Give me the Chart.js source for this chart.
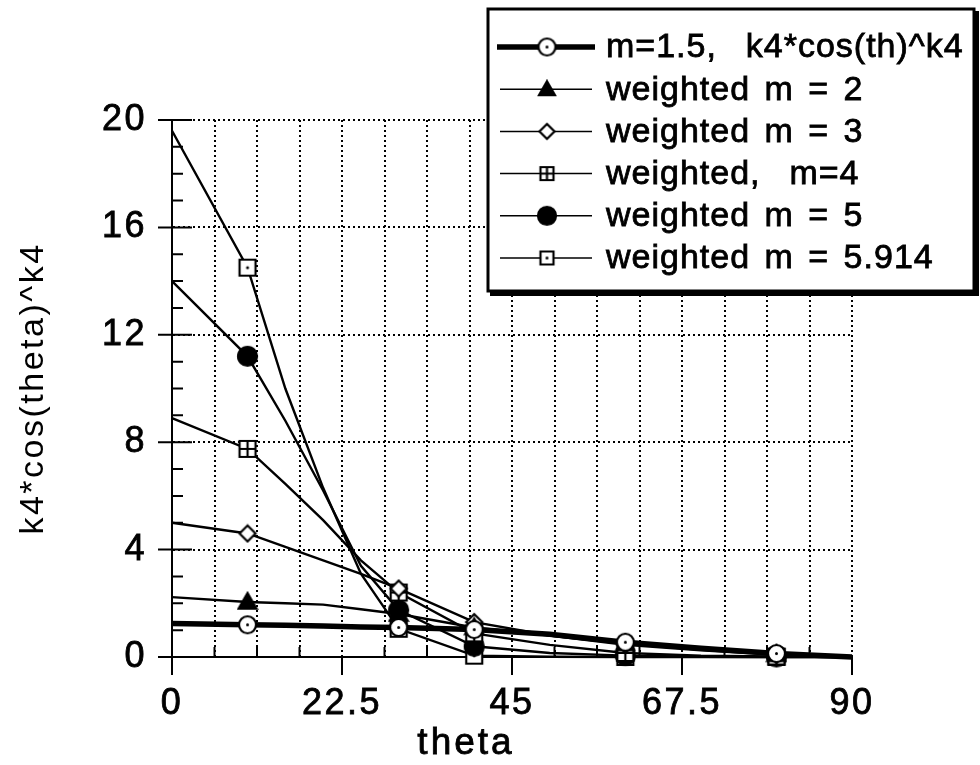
<!DOCTYPE html>
<html>
<head>
<meta charset="utf-8">
<script src="https://cdn.jsdelivr.net/npm/chart.js@4.4.0/dist/chart.umd.min.js"></script>
<style>
  html, body { margin: 0; padding: 0; background: #fff; }
  #caixa { width: 980px; height: 765px; }
</style>
</head>
<body>
<div id="caixa"><canvas id="grafico" width="980" height="765"></canvas></div>
<script>
// valores (theta em graus)
const theta = [0, 10, 15, 20, 25, 30, 40, 50, 60, 70, 80, 90];
const m15   = [1.25, 1.2, 1.18, 1.15, 1.12, 1.1, 1.02, 0.85, 0.55, 0.33, 0.13, 0];
const m2    = [2.23, 2.05, 2.0, 1.95, 1.78, 1.6, 1.1, 0.8, 0.5, 0.28, 0.1, 0];
const m3    = [5.0, 4.6, 4.1, 3.6, 3.1, 2.55, 1.3, 0.8, 0.45, 0.25, 0.08, 0];
const m4    = [8.9, 7.75, 6.45, 5.1, 3.6, 2.4, 0.88, 0.45, 0.15, 0.05, 0.02, 0];
const m5    = [14.0, 11.2, 8.8, 6.2, 3.4, 1.75, 0.4, 0.15, 0.05, 0.01, 0, 0];
const m5914 = [19.6, 14.5, 10.0, 6.3, 3.1, 1.05, 0.05, 0.01, 0, 0, 0, 0];
// pontos que levam marcador
const comMarcador = [10, 30, 40, 60, 80];

const nomes = [
  'm=1.5,  k4*cos(th)^k4',
  'weighted m = 2',
  'weighted m = 3',
  'weighted,  m=4',
  'weighted m = 5',
  'weighted m = 5.914'
];
const xTickLabels = ['0', '22.5', '45', '67.5', '90'];
const yTickLabels = ['0', '4', '8', '12', '16', '20'];

const fonte = "'Liberation Sans', Arial, Helvetica, sans-serif";

// desenha um marcador num canvas pequeno
function marcador(tipo, s) {
  const c = document.createElement('canvas');
  c.width = s + 4; c.height = s + 4;
  const g = c.getContext('2d');
  const m = (s + 4) / 2, r = s / 2;
  g.lineWidth = 2.2;
  g.strokeStyle = '#000';
  g.fillStyle = '#fff';
  g.beginPath();
  if (tipo === 'circuloPonto' || tipo === 'disco') {
    g.arc(m, m, r - 1, 0, Math.PI * 2);
  } else if (tipo === 'triangulo') {
    g.moveTo(m, m - r); g.lineTo(m + r, m + r * 0.75); g.lineTo(m - r, m + r * 0.75); g.closePath();
  } else if (tipo === 'losango') {
    g.moveTo(m, m - r); g.lineTo(m + r, m); g.lineTo(m, m + r); g.lineTo(m - r, m); g.closePath();
  } else {
    g.rect(m - r + 1, m - r + 1, s - 2, s - 2);
  }
  if (tipo === 'disco' || tipo === 'triangulo') {
    g.fillStyle = '#000';
  }
  g.fill();
  g.stroke();
  g.fillStyle = '#000';
  if (tipo === 'circuloPonto' || tipo === 'quadradoPonto') {
    g.beginPath(); g.arc(m, m, 1.5, 0, Math.PI * 2); g.fill();
  }
  if (tipo === 'quadradoMais') {
    g.beginPath();
    g.moveTo(m, m - r + 1); g.lineTo(m, m + r - 1);
    g.moveTo(m - r + 1, m); g.lineTo(m + r - 1, m);
    g.stroke();
  }
  return c;
}

const tipos = ['circuloPonto', 'triangulo', 'losango', 'quadradoMais', 'disco', 'quadradoPonto'];
const tamGrafico = [19, 18, 16, 18, 21, 18];
const tamLegenda = [19, 16, 15, 15, 20, 15];
const espessura = [5.5, 2.4, 2.4, 2.4, 2.4, 2.4];
const valores = [m15, m2, m3, m4, m5, m5914];

const datasets = valores.map((v, k) => ({
  label: nomes[k],
  data: theta.map((t, i) => ({ x: t, y: v[i] })),
  borderColor: '#000',
  backgroundColor: '#000',
  borderWidth: espessura[k],
  pointStyle: marcador(tipos[k], tamGrafico[k]),
  pointRadius: ctx => comMarcador.includes(theta[ctx.dataIndex]) ? 9 : 0,
  pointHoverRadius: ctx => comMarcador.includes(theta[ctx.dataIndex]) ? 9 : 0,
  tension: 0,
  fill: false,
  clip: false
}));

const legendas = tipos.map((t, k) => marcador(t, tamLegenda[k]));

// ticks, titulo do eixo x e legenda desenhados a mao
const extras = {
  id: 'extras',
  beforeDraw(chart) {
    chart.ctx.letterSpacing = '2.5px';
  },
  beforeDatasetsDraw(chart) {
    const { ctx, scales: { x, y }, chartArea: a } = chart;
    ctx.save();
    ctx.strokeStyle = '#000';
    ctx.lineWidth = 2;
    ctx.beginPath();
    for (let v = 0; v <= 20; v++) {
      const py = y.getPixelForValue(v);
      if (v % 4 === 0) { ctx.moveTo(a.left - 14, py); ctx.lineTo(a.left + 20, py); }
      else { ctx.moveTo(a.left, py); ctx.lineTo(a.left + 11, py); }
    }
    x.ticks.forEach(t => {
      const px = x.getPixelForValue(t.value);
      if (xTickLabels.includes(String(t.value))) { ctx.moveTo(px, a.bottom); ctx.lineTo(px, a.bottom + 18); }
      else { ctx.moveTo(px, a.bottom - 10); ctx.lineTo(px, a.bottom); }
    });
    ctx.stroke();
    ctx.fillStyle = '#000';
    ctx.font = '37px ' + fonte;
    ctx.letterSpacing = '3px';
    ctx.textAlign = 'center';
    ctx.textBaseline = 'middle';
    ctx.lineWidth = 0.8;
    ctx.fillText('theta', (a.left + a.right) / 2 - 46, 744);
    ctx.strokeText('theta', (a.left + a.right) / 2 - 46, 744);
    ctx.restore();
  },
  afterDraw(chart) {
    const ctx = chart.ctx;
    const L = 488, T = 9, R = 974, B = 291;
    ctx.save();
    ctx.fillStyle = '#fff';
    ctx.fillRect(L, T, R - L, B - T);
    ctx.strokeStyle = '#000';
    ctx.lineWidth = 3;
    ctx.strokeRect(L, T, R - L, B - T);
    ctx.lineWidth = 6;
    ctx.beginPath();
    ctx.moveTo(R + 2, T + 2); ctx.lineTo(R + 2, B + 2); ctx.lineTo(L + 2, B + 2);
    ctx.stroke();
    ctx.font = '34px ' + fonte;
    ctx.letterSpacing = '1px';
    ctx.wordSpacing = '4px';
    ctx.textAlign = 'left';
    ctx.textBaseline = 'middle';
    ctx.fillStyle = '#000';
    nomes.forEach((n, k) => {
      const ly = 47 + k * 42.2;
      ctx.lineWidth = k === 0 ? 5.5 : 1.5;
      ctx.beginPath();
      ctx.moveTo(k === 0 ? 497 : 500, ly); ctx.lineTo(k === 0 ? 595 : 592, ly);
      ctx.stroke();
      const img = legendas[k];
      ctx.drawImage(img, 547 - img.width / 2, ly - img.height / 2);
      ctx.fillText(n, 606, ly + 1);
      ctx.lineWidth = 0.8;
      ctx.strokeText(n, 606, ly + 1);
    });
    ctx.restore();
  }
};

new Chart(document.getElementById('grafico'), {
  type: 'line',
  data: { datasets },
  options: {
    responsive: false,
    animation: false,
    layout: { padding: { top: 120, right: 128, left: 0, bottom: 0 } },
    plugins: { legend: { display: false }, tooltip: { enabled: false } },
    scales: {
      x: {
        type: 'linear',
        min: 0,
        max: 90,
        afterFit(s) { s.height = 108; },
        ticks: {
          stepSize: 5.625,
          autoSkip: false,
          maxRotation: 0,
          minRotation: 0,
          padding: 25,
          color: '#000',
          textStrokeColor: '#000',
          textStrokeWidth: 0.8,
          font: { size: 36, family: fonte },
          callback: v => xTickLabels.includes(String(v)) ? String(v) : ''
        },
        grid: {
          drawTicks: false,
          lineWidth: 2,
          color: c => (c.tick && c.tick.value === 0) ? 'rgba(0,0,0,0)' : '#000'
        },
        border: { color: '#000', width: 2, dash: [2, 3] }
      },
      y: {
        min: 0,
        max: 20,
        afterFit(s) { s.width = 172; },
        ticks: {
          stepSize: 4,
          padding: 25,
          color: '#000',
          textStrokeColor: '#000',
          textStrokeWidth: 0.8,
          font: { size: 36, family: fonte },
          callback: v => yTickLabels.includes(String(v)) ? String(v) : ''
        },
        grid: {
          drawTicks: false,
          lineWidth: 2,
          color: c => (c.tick && c.tick.value === 0) ? 'rgba(0,0,0,0)' : '#000'
        },
        border: { color: '#000', width: 2, dash: [2, 3] },
        title: {
          display: true,
          text: 'k4*cos(theta)^k4',
          color: '#000',
          font: { size: 34, family: fonte },
          padding: { top: 13 }
        }
      }
    }
  },
  plugins: [extras]
});
</script>
</body>
</html>
